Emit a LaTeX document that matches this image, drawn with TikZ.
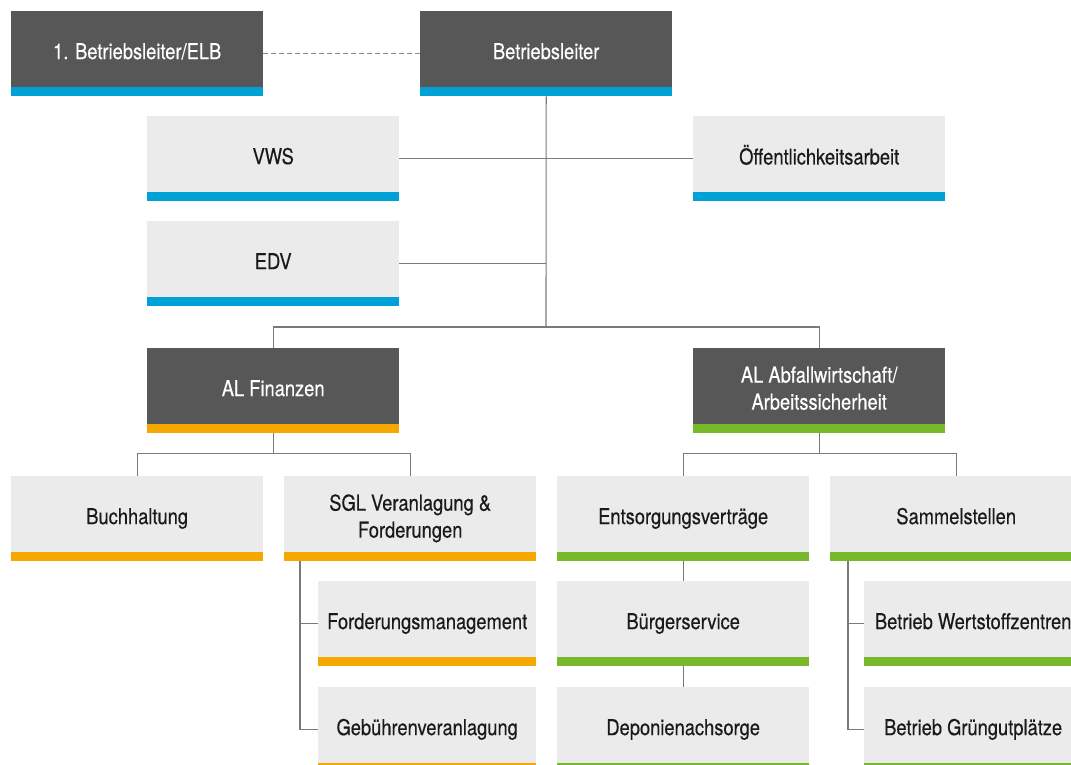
\documentclass[tikz,border=0pt]{standalone}
\usepackage{fontspec}
\setmainfont{TeX Gyre Heros}[FakeStretch=0.84, FakeBold=0.35]
\definecolor{cdark}{HTML}{575757}
\definecolor{clight}{HTML}{EBEBEB}
\definecolor{ctext}{HTML}{1A1A1A}
\definecolor{cblue}{HTML}{00A1D6}
\definecolor{corange}{HTML}{F5A800}
\definecolor{cgreen}{HTML}{79B82A}
\definecolor{cline}{HTML}{7A7A7A}
\newcommand\orgtxt[1]{{\fontsize{21.8}{27}\selectfont\begin{tabular}{@{}c@{}}#1\end{tabular}}}
\tikzset{
  orgbase/.style={rectangle, inner sep=0pt, anchor=north west, minimum width=252pt, minimum height=85pt,
    path picture={\fill[#1] ([yshift=9pt]path picture bounding box.south west) rectangle (path picture bounding box.south east);}},
  dkbox/.style={orgbase=#1, fill=cdark, text=white},
  ltbox/.style={orgbase=#1, fill=clight, text=ctext},
  narrow/.style={minimum width=218pt},
  conn/.style={draw=cline, line width=1.1pt},
  dashconn/.style={draw=cline!85, line width=1.1pt, dash pattern=on 4.5pt off 3.5pt}
}
\begin{document}
\begin{tikzpicture}[x=1pt,y=-1pt]
\useasboundingbox (0,0) rectangle (1071,764);
\fill[white] (0,0) rectangle (1071,764);
\clip (0,0) rectangle (1071,764);

\node[dkbox=cblue] (elb) at (11,11) {\orgtxt{1. Betriebsleiter/ELB}};
\node[dkbox=cblue] (bl) at (420,11) {\orgtxt{Betriebsleiter}};
\node[ltbox=cblue] (vws) at (147,116) {\orgtxt{VWS}};
\node[ltbox=cblue] (oe) at (693,116) {\orgtxt{Öffentlichkeitsarbeit}};
\node[ltbox=cblue] (edv) at (147,221) {\orgtxt{EDV}};
\node[dkbox=corange] (alf) at (147,348) {\orgtxt{AL Finanzen}};
\node[dkbox=cgreen] (ala) at (693,348) {\orgtxt{AL Abfallwirtschaft/\\Arbeitssicherheit}};
\node[ltbox=corange] (buch) at (11,476) {\orgtxt{Buchhaltung}};
\node[ltbox=corange] (sgl) at (284,476) {\orgtxt{SGL Veranlagung \&\\Forderungen}};
\node[ltbox=cgreen] (ent) at (557,476) {\orgtxt{Entsorgungsverträge}};
\node[ltbox=cgreen] (sam) at (830,476) {\orgtxt{Sammelstellen}};
\node[ltbox=corange, narrow] (fm) at (318,581) {\orgtxt{Forderungsmanagement}};
\node[ltbox=corange, narrow] (gb) at (318,687) {\orgtxt{Gebührenveranlagung}};
\node[ltbox=cgreen] (bue) at (557,581) {\orgtxt{Bürgerservice}};
\node[ltbox=cgreen] (dep) at (557,687) {\orgtxt{Deponienachsorge}};
\node[ltbox=cgreen, narrow] (wz) at (864,581) {\orgtxt{Betrieb Wertstoffzentren}};
\node[ltbox=cgreen, narrow] (gru) at (864,687) {\orgtxt{Betrieb Grüngutplätze}};

% connectors
\draw[dashconn] (elb) -- (bl);
\coordinate (t1) at (546,327);
\draw[conn] (bl.south) -- (t1);
\draw[conn] (vws) -- (oe);
\draw[conn] (edv.east) -- (edv.east -| bl.south);
\draw[conn] (alf.north) |- (t1) -| (ala.north);
\draw[conn] (alf.south) -- ++(0,20.5) -| (buch.north);
\draw[conn] (alf.south) ++(0,20.5) -| (sgl.north);
\draw[conn] (ala.south) -- ++(0,20.5) -| (ent.north);
\draw[conn] (ala.south) ++(0,20.5) -| (sam.north);
\draw[conn] ([xshift=16pt]sgl.south west) |- (gb.west);
\draw[conn] (fm.west) -- ++(-18,0);
\draw[conn] (ent) -- (bue);
\draw[conn] (bue) -- (dep);
\draw[conn] ([xshift=18pt]sam.south west) |- (gru.west);
\draw[conn] (wz.west) -- ++(-16,0);
\end{tikzpicture}
\end{document}
